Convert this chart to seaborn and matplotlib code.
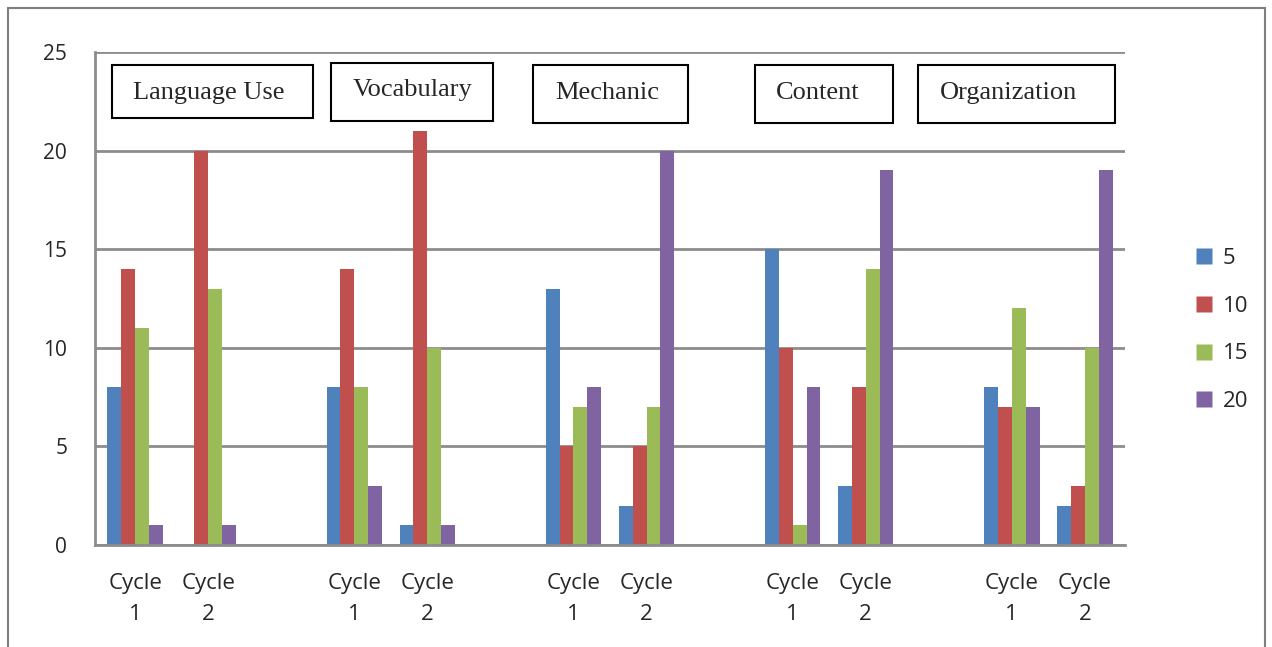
import pandas as pd
import matplotlib.pyplot as plt
import seaborn as sns
from matplotlib.patches import Rectangle
from matplotlib.lines import Line2D

# chart data
aspects = ['Language Use', 'Vocabulary', 'Mechanic', 'Content', 'Organization']
scores = ['5', '10', '15', '20']
cycle1 = {
    'Language Use': [8, 14, 11, 1],
    'Vocabulary': [8, 14, 8, 3],
    'Mechanic': [13, 5, 7, 8],
    'Content': [15, 10, 1, 8],
    'Organization': [8, 7, 12, 7],
}
cycle2 = {
    'Language Use': [0, 20, 13, 1],
    'Vocabulary': [1, 21, 10, 1],
    'Mechanic': [2, 5, 7, 20],
    'Content': [3, 8, 14, 19],
    'Organization': [2, 3, 10, 19],
}
colors = ['#4F81BD', '#C0504D', '#9BBB59', '#8064A2']

# build long table, with empty slots between aspect groups
rows = []
order = []
tick_labels = []
for i, a in enumerate(aspects):
    for cyc, vals in (('C1', cycle1[a]), ('C2', cycle2[a])):
        key = f'{a} {cyc}'
        order.append(key)
        tick_labels.append('Cycle\n' + cyc[1])
        for s, v in zip(scores, vals):
            rows.append({'slot': key, 'score': s, 'count': v})
    if i < len(aspects) - 1:
        order.append(f'gap{i}')
        tick_labels.append('')
df = pd.DataFrame(rows)

sns.set_style('white')
plt.rcParams['font.family'] = ['Open Sans', 'DejaVu Sans']

W, H = 1272, 647
fig = plt.figure(figsize=(W / 100, H / 100), dpi=100)
ax = fig.add_axes([95 / W, 1 - 545 / H, 1030 / W, (545 - 52) / H])

sns.barplot(data=df, x='slot', y='count', hue='score', order=order,
            hue_order=scores, palette=colors, saturation=1, width=0.76, gap=0,
            edgecolor='none', legend=False, ax=ax)

ax.set_ylim(0, 25)
ax.set_xlim(-0.55, len(order) - 0.45)
ax.set_yticks([0, 5, 10, 15, 20, 25])
ax.set_yticklabels(['0', '5', '10', '15', '20', '25'], fontsize=15)
ax.yaxis.grid(True, color='#8c8c8c', linewidth=2)
ax.set_axisbelow(True)
ax.set_xticks(range(len(order)))
ax.set_xticklabels(tick_labels, fontsize=16, linespacing=1.65)
ax.tick_params(axis='x', length=0, pad=20)
ax.tick_params(axis='y', length=6, color='#8c8c8c', width=1.5, pad=14)
ax.set_xticks([x - 0.5 for x in range(len(order) + 1)], minor=True)
ax.tick_params(axis='x', which='minor', length=10, color='#8c8c8c', width=1.5)
ax.set_xlabel('')
ax.set_ylabel('')
for side in ['top', 'right']:
    ax.spines[side].set_visible(False)
for side in ['left', 'bottom']:
    ax.spines[side].set_color('#8c8c8c')
    ax.spines[side].set_linewidth(2)

# outer chart border
fig.patches.append(Rectangle((8 / W, -0.02), (1265 - 8) / W, 1 - 8 / H + 0.02,
                             transform=fig.transFigure, fill=False,
                             edgecolor='#7f7f7f', linewidth=1.5))

# aspect label boxes
boxes = [(112, 313, 65, 118), (331, 493, 63, 121), (533, 688, 65, 123),
         (755, 893, 65, 123), (918, 1115, 65, 123)]
text_x = [209, 413, 607, 818, 1008]
text_y = [93, 90, 93, 93, 93]
for a, (x0, x1, y0, y1), tx, ty in zip(aspects, boxes, text_x, text_y):
    fig.patches.append(Rectangle((x0 / W, 1 - y1 / H), (x1 - x0) / W, (y1 - y0) / H,
                                 transform=fig.transFigure, facecolor='white',
                                 edgecolor='black', linewidth=1.5, zorder=5))
    fig.text(tx / W, 1 - ty / H, a, ha='center', va='center', fontsize=19,
             family='Liberation Serif', zorder=6)

# legend
handles = [Line2D([], [], marker='s', linestyle='none', markersize=11,
                  markerfacecolor=c, markeredgecolor='none') for c in colors]
fig.legend(handles, scores, loc='center left', bbox_to_anchor=(1173 / W, 1 - 330 / H),
           frameon=False, fontsize=16, labelspacing=1.2, handletextpad=0.35,
           handlelength=1.0)

fig.savefig('out.png', dpi=100)
